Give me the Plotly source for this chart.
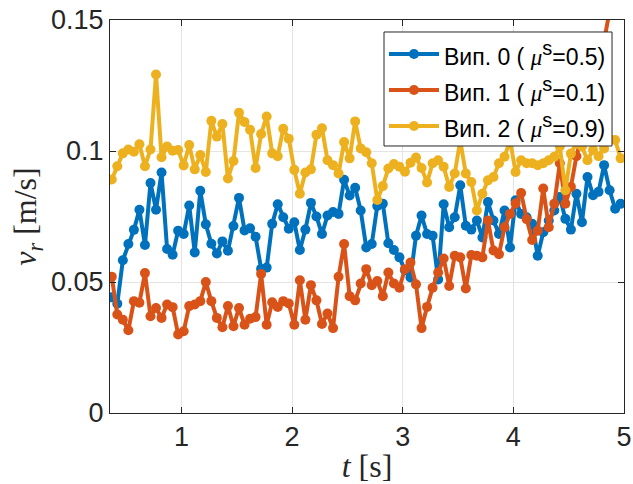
import numpy as np
import plotly.graph_objects as go

# Time samples (s)
t = np.round(0.37 + 0.05 * np.arange(93), 2)

# Relative velocity v_r (m/s) for each run
v_case0 = [
    0.0442, 0.0417, 0.0583, 0.0645, 0.0699, 0.0776, 0.0641, 0.0878, 0.0776, 0.0918,
    0.0626, 0.0604, 0.0696, 0.0683, 0.0792, 0.0613, 0.0848, 0.0720, 0.0646, 0.0609,
    0.0655, 0.0619, 0.0714, 0.0821, 0.0697, 0.0705, 0.0673, 0.0550, 0.0555, 0.0722,
    0.0797, 0.0747, 0.0703, 0.0728, 0.0622, 0.0700, 0.0802, 0.0750, 0.0683, 0.0754,
    0.0767, 0.0760, 0.0890, 0.0830, 0.0860, 0.0773, 0.0632, 0.0645, 0.0790, 0.0799,
    0.0648, 0.0622, 0.0594, 0.0545, 0.0517, 0.0677, 0.0754, 0.0683, 0.0677, 0.0510,
    0.0797, 0.0709, 0.0747, 0.0869, 0.0715, 0.0700, 0.0735, 0.0670, 0.0805, 0.0735,
    0.0683, 0.0773, 0.0632, 0.0812, 0.0760, 0.0747, 0.0722, 0.0600, 0.0690, 0.0735,
    0.0773, 0.0824, 0.0741, 0.0700, 0.0837, 0.0728, 0.0901, 0.0831, 0.0844, 0.0946,
    0.0850, 0.0780, 0.0799,
]
v_case1 = [
    0.0520, 0.0376, 0.0356, 0.0316, 0.0427, 0.0421, 0.0534, 0.0369, 0.0401, 0.0363,
    0.0414, 0.0404, 0.0300, 0.0312, 0.0408, 0.0414, 0.0427, 0.0500, 0.0427, 0.0363,
    0.0327, 0.0408, 0.0331, 0.0401, 0.0337, 0.0360, 0.0366, 0.0531, 0.0337, 0.0423,
    0.0405, 0.0427, 0.0418, 0.0337, 0.0507, 0.0356, 0.0488, 0.0430, 0.0340, 0.0380,
    0.0324, 0.0520, 0.0645, 0.0446, 0.0430, 0.0494, 0.0549, 0.0488, 0.0504, 0.0446,
    0.0536, 0.0494, 0.0478, 0.0549, 0.0574, 0.0491, 0.0324, 0.0405, 0.0478, 0.0536,
    0.0590, 0.0485, 0.0600, 0.0594, 0.0475, 0.0603, 0.0600, 0.0594, 0.0735, 0.0620,
    0.0606, 0.0709, 0.0760, 0.0800, 0.0840, 0.0740, 0.0660, 0.0696, 0.0857, 0.0709,
    0.0799, 0.0953, 0.0799, 0.0863, 0.0980, 0.1060, 0.1140, 0.1220, 0.1310, 0.1420,
    0.1560, 0.1650, 0.1740,
]
v_case2 = [
    0.0891, 0.0942, 0.0991, 0.1006, 0.0997, 0.1026, 0.0942, 0.1006, 0.1292, 0.0976,
    0.1017, 0.1001, 0.1004, 0.0945, 0.1023, 0.0930, 0.0985, 0.0920, 0.1115, 0.1055,
    0.1103, 0.0895, 0.0962, 0.1146, 0.1111, 0.1081, 0.0935, 0.1065, 0.1132, 0.0991,
    0.0980, 0.1085, 0.1047, 0.0928, 0.0837, 0.0918, 0.0930, 0.1062, 0.1087, 0.0965,
    0.0946, 0.0914, 0.1034, 0.0972, 0.1113, 0.1010, 0.0995, 0.0953, 0.0813, 0.0866,
    0.0933, 0.0950, 0.0940, 0.0921, 0.0955, 0.0975, 0.0935, 0.0880, 0.0953, 0.0965,
    0.0940, 0.0863, 0.0914, 0.1040, 0.0914, 0.0882, 0.0773, 0.0837, 0.0888, 0.0901,
    0.0953, 0.0978, 0.1040, 0.0920, 0.0965, 0.0953, 0.0953, 0.0946, 0.0953, 0.0965,
    0.0978, 0.1017, 0.0850, 0.0990, 0.1030, 0.1017, 0.0965, 0.1004, 0.0980, 0.1010,
    0.1045, 0.1042, 0.0972,
]

run_names = ["Вип. 0", "Вип. 1", "Вип. 2"]
mu_s = ["0.5", "0.1", "0.9"]
colors = ["#0072BD", "#D95319", "#EDB120"]
series = [v_case0, v_case1, v_case2]

x_ticks = [1, 2, 3, 4, 5]
y_ticks = [0, 0.05, 0.1, 0.15]
y_tick_text = ["0", "0.05", "0.1", "0.15"]

AX = "#262626"
TICK_FONT = dict(family="Liberation Sans, Arial, sans-serif", size=27, color=AX)
TEX_FONT = dict(family="Liberation Serif, Times New Roman, serif", size=32, color=AX)

fig = go.Figure()
for vals, col, name in zip(series, colors, run_names):
    fig.add_trace(go.Scatter(
        x=t, y=vals, mode="lines+markers", name=name, showlegend=False,
        line=dict(color=col, width=4),
        marker=dict(color=col, size=10),
    ))

axis_common = dict(
    showline=True, linecolor=AX, linewidth=1, mirror="ticks",
    ticks="inside", ticklen=6, tickcolor=AX, tickwidth=1,
    showgrid=True, gridcolor="#e4e4e4", gridwidth=1,
    zeroline=False, tickfont=TICK_FONT, ticklabeloverflow="allow",
    automargin=False,
)

fig.update_layout(
    width=633, height=484,
    margin=dict(l=110, r=9, t=20, b=71),
    paper_bgcolor="white", plot_bgcolor="white",
    xaxis=dict(range=[0.354, 5.0], tickvals=x_ticks,
               title=dict(text="<i>t</i> [s]", font=TEX_FONT, standoff=6),
               **axis_common),
    yaxis=dict(range=[0, 0.15], tickvals=y_ticks, ticktext=y_tick_text,
               title=dict(text="<i>v</i><sub><i>r</i></sub> [m/s]", font=TEX_FONT, standoff=4),
               **axis_common),
)

# Legend box drawn in paper coordinates on top of the data
L, R = 0.5331, 0.9767
T, B = 0.9695, 0.6794
fig.add_shape(type="rect", xref="paper", yref="paper", x0=L, x1=R, y0=B, y1=T,
              fillcolor="white", line=dict(color=AX, width=1), layer="above")
row_y = [0.9135, 0.8219, 0.7303]
for name, mu, col, yy in zip(run_names, mu_s, colors, row_y):
    fig.add_shape(type="line", xref="paper", yref="paper", x0=0.5428, x1=0.6401,
                  y0=yy, y1=yy, line=dict(color=col, width=4), layer="above")
    fig.add_shape(type="circle", xref="paper", yref="paper",
                  xsizemode="pixel", ysizemode="pixel", xanchor=0.5914, yanchor=yy,
                  x0=-5, x1=5, y0=-5, y1=5, fillcolor=col, line=dict(color=col, width=0),
                  layer="above")
    fig.add_annotation(
        xref="paper", yref="paper", x=0.6459, y=yy, xanchor="left", yanchor="middle",
        showarrow=False,
        text=(f"{name} ( <span style='font-family:Liberation Serif'><i>μ</i></span>"
              f"<sup><span style='font-size:20px'>s</span></sup>={mu})"),
        font=dict(family="Liberation Sans, Arial, sans-serif", size=23, color="black"),
    )

fig.write_html("out.html")
